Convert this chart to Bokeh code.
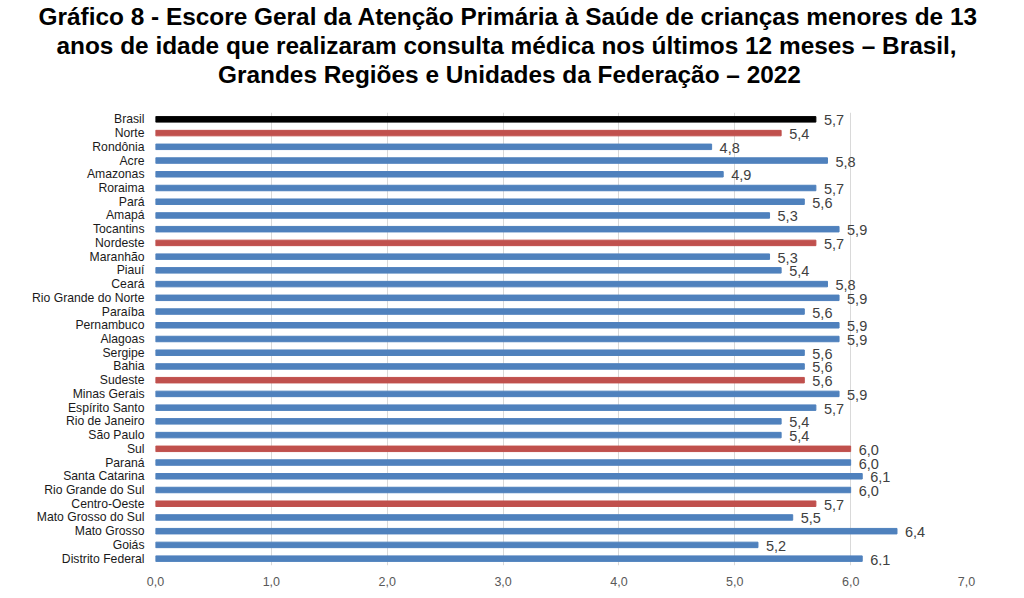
from bokeh.plotting import figure
from bokeh.models import ColumnDataSource, Title, Range1d, FixedTicker
from bokeh.core.properties import value
from bokeh.embed import file_html
from bokeh.resources import INLINE

categories = ["Brasil", "Norte", "Rondônia", "Acre", "Amazonas", "Roraima", "Pará", "Amapá",
              "Tocantins", "Nordeste", "Maranhão", "Piauí", "Ceará", "Rio Grande do Norte",
              "Paraíba", "Pernambuco", "Alagoas", "Sergipe", "Bahia", "Sudeste", "Minas Gerais",
              "Espírito Santo", "Rio de Janeiro", "São Paulo", "Sul", "Paraná", "Santa Catarina",
              "Rio Grande do Sul", "Centro-Oeste", "Mato Grosso do Sul", "Mato Grosso", "Goiás",
              "Distrito Federal"]
values = [5.7, 5.4, 4.8, 5.8, 4.9, 5.7, 5.6, 5.3, 5.9, 5.7, 5.3, 5.4, 5.8, 5.9, 5.6, 5.9, 5.9,
          5.6, 5.6, 5.6, 5.9, 5.7, 5.4, 5.4, 6.0, 6.0, 6.1, 6.0, 5.7, 5.5, 6.4, 5.2, 6.1]
level = ["pais", "regiao", "uf", "uf", "uf", "uf", "uf", "uf", "uf", "regiao", "uf", "uf", "uf",
         "uf", "uf", "uf", "uf", "uf", "uf", "regiao", "uf", "uf", "uf", "uf", "regiao", "uf", "uf",
         "uf", "regiao", "uf", "uf", "uf", "uf"]
tick_values = [0, 1, 2, 3, 4, 5, 6, 7]
tick_labels = ["0,0", "1,0", "2,0", "3,0", "4,0", "5,0", "6,0", "7,0"]
title_lines = ["Gráfico 8 - Escore Geral da Atenção Primária à Saúde de crianças menores de 13",
               "anos de idade que realizaram consulta médica nos últimos 12 meses – Brasil,",
               "Grandes Regiões e Unidades da Federação – 2022"]

palette = {"pais": "#000000", "regiao": "#c0504d", "uf": "#4f81bd"}
colors = [palette[l] for l in level]
labels = [f"{v:.1f}".replace(".", ",") for v in values]

src = ColumnDataSource(dict(cat=categories, val=values, color=colors, lab=labels))

p = figure(width=1024, height=598, y_range=list(reversed(categories)), x_range=Range1d(0, 7),
           output_backend="svg", toolbar_location=None,
           min_border_left=155, min_border_right=58, min_border_bottom=33, min_border_top=0)
p.outline_line_color = None

# spacer between the title block and the plot frame (added first = nearest the frame)
p.add_layout(Title(text=" ", text_font_size="21px", standoff=0), "above")
# title lines, left aligned with a per-line shift so each is centred on the page
title_offsets = [62.5, -99, -117]
for line, off in zip(reversed(title_lines), title_offsets):
    p.add_layout(Title(text=line, align="left", offset=off, standoff=0,
                       text_font="Liberation Sans", text_font_size="24.4px",
                       text_font_style="bold", text_color="#000000"), "above")

p.hbar(y="cat", right="val", left=0, height=0.4, color="color", source=src)
p.text(x="val", y="cat", text="lab", source=src, x_offset=8, y_offset=1,
       text_baseline="middle", text_align="left", text_font_size="14.5px",
       text_color="#404040", text_font=value("Liberation Sans"))

p.xaxis.ticker = FixedTicker(ticks=tick_values)
p.xaxis.major_label_overrides = {t: l for t, l in zip(tick_values, tick_labels)}
p.xaxis.axis_line_color = None
p.xaxis.major_tick_line_color = None
p.xaxis.minor_tick_line_color = None
p.xaxis.major_label_text_font = "Liberation Sans"
p.xaxis.major_label_text_font_size = "12.5px"
p.xaxis.major_label_text_color = "#595959"
p.xaxis.major_label_standoff = 5

p.yaxis.axis_line_color = None
p.yaxis.major_tick_line_color = None
p.yaxis.minor_tick_line_color = None
p.yaxis.major_label_text_font = "Liberation Sans"
p.yaxis.major_label_text_font_size = "12.2px"
p.yaxis.major_label_text_color = "#1a1a1a"
p.yaxis.major_label_standoff = 5

p.ygrid.grid_line_color = None
p.xgrid.grid_line_color = "#d9d9d9"
p.xgrid.grid_line_width = 1

open("out.html", "w").write(file_html(p, INLINE))
